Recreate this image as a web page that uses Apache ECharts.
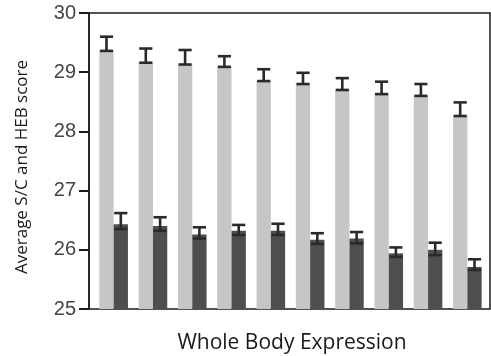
<!DOCTYPE html>
<html><head><meta charset="utf-8">
<script src="https://cdn.jsdelivr.net/npm/echarts@6/dist/echarts.min.js"></script>
<style>html,body{margin:0;padding:0;background:#fff}#c{width:491px;height:356px}</style>
</head><body><div id="c"></div>
<script>
// Data
var categories = ['1','2','3','4','5','6','7','8','9','10'];
var lightValues = [29.36, 29.16, 29.13, 29.09, 28.85, 28.80, 28.70, 28.63, 28.60, 28.26];
var lightErrHigh = [0.24, 0.24, 0.245, 0.18, 0.20, 0.19, 0.20, 0.21, 0.20, 0.23];
var lightErrLow = [0, 0, 0, 0, 0, 0, 0, 0, 0, 0];
var darkValues = [26.43, 26.40, 26.26, 26.32, 26.32, 26.17, 26.19, 25.94, 26.00, 25.71];
var darkErrHigh = [0.19, 0.15, 0.12, 0.10, 0.12, 0.11, 0.11, 0.10, 0.12, 0.13];
var darkErrLow = [0.08, 0.08, 0.07, 0.07, 0.07, 0.07, 0.08, 0.06, 0.09, 0.05];
var yTicks = [25, 26, 27, 28, 29, 30];
var xTitle = 'Whole Body Expression';
var yTitle = 'Average S/C and HEB score';

var BAR_FRAC = 0.364;
var yMin = yTicks[0], yMax = yTicks[yTicks.length - 1];

function errItem(vals, lo, hi, side) {
  return vals.map(function (v, i) { return [i, v, v - lo[i], v + hi[i], side]; });
}

function renderErr(params, api) {
  var i = api.value(0);
  var side = api.value(4);
  var band = api.size([1, 0])[0];
  var bw = band * BAR_FRAC;
  var c = api.coord([i, api.value(1)]);
  var x = c[0] + side * bw / 2;
  var yl = api.coord([i, api.value(2)])[1];
  var yh = api.coord([i, api.value(3)])[1];
  var hw = bw * 0.46;
  var st = {stroke: '#2a2a2a', lineWidth: 2.6};
  return {type: 'group', children: [
    {type: 'line', shape: {x1: x, y1: yl, x2: x, y2: yh}, style: st},
    {type: 'line', shape: {x1: x - hw, y1: yh, x2: x + hw, y2: yh}, style: st},
    {type: 'line', shape: {x1: x - hw, y1: yl, x2: x + hw, y2: yl}, style: st}
  ]};
}

var chart = echarts.init(document.getElementById('c'));
chart.setOption({
  animation: false,
  grid: [
    {left: 94, right: 4, top: 13, bottom: 47},
    {left: 89, right: 1, top: 13, bottom: 47, show: true, borderColor: '#1a1a1a', borderWidth: 1.5, backgroundColor: 'transparent', z: 0}
  ],
  xAxis: [
    {type: 'category', gridIndex: 0, data: categories, axisLine: {show: false}, axisTick: {show: false}, axisLabel: {show: false}},
    {type: 'value', gridIndex: 1, show: false, min: 0, max: 1}
  ],
  yAxis: [
    {type: 'value', gridIndex: 0, min: yMin, max: yMax, interval: 1, show: false},
    {type: 'value', gridIndex: 1, min: yMin, max: yMax, interval: 1, position: 'left',
      axisLine: {show: true, lineStyle: {color: '#1a1a1a', width: 1.5}},
      axisTick: {show: true, inside: false, length: 10, lineStyle: {color: '#1a1a1a', width: 2}},
      axisLabel: {color: '#444444', fontSize: 20, fontFamily: 'Liberation Sans', margin: 13},
      splitLine: {show: false}}
  ],
  graphic: [
    {type: 'text', x: 22, y: 167, rotation: Math.PI / 2,
      style: {text: yTitle, fill: '#1a1a1a', font: '17px "Open Sans"', align: 'center', verticalAlign: 'middle'}},
    {type: 'text', x: 292, y: 343,
      style: {text: xTitle, fill: '#1a1a1a', font: '21px "Open Sans"', align: 'center', verticalAlign: 'middle'}}
  ],
  series: [
    {type: 'bar', data: lightValues, barWidth: (BAR_FRAC * 100) + '%', barGap: '0%', itemStyle: {color: '#c6c6c6'}, z: 2},
    {type: 'bar', data: darkValues, barWidth: (BAR_FRAC * 100) + '%', barGap: '0%', itemStyle: {color: '#4e4e4e'}, z: 2},
    {type: 'custom', renderItem: renderErr, data: errItem(lightValues, lightErrLow, lightErrHigh, -1), encode: {x: 0, y: [1, 2, 3]}, z: 3},
    {type: 'custom', renderItem: renderErr, data: errItem(darkValues, darkErrLow, darkErrHigh, 1), encode: {x: 0, y: [1, 2, 3]}, z: 3}
  ]
});
</script></body></html>
